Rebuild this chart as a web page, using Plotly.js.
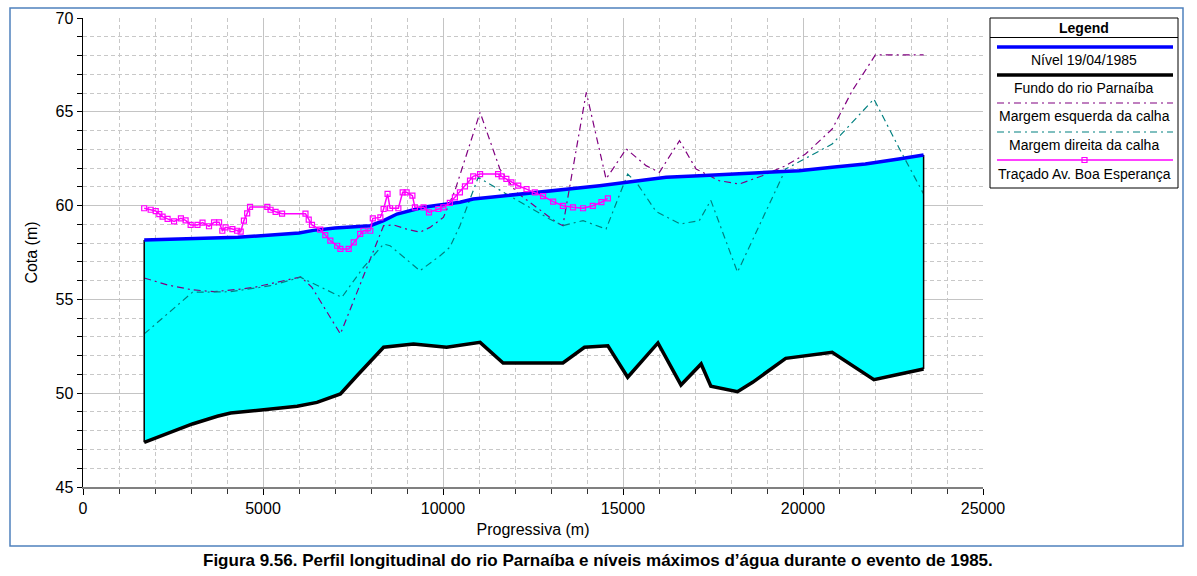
<!DOCTYPE html>
<html>
<head>
<meta charset="utf-8">
<script src="https://cdn.plot.ly/plotly-3.0.1.min.js"></script>
<style>html,body{margin:0;padding:0;background:#fff;}#chart{width:1197px;height:576px;}</style>
</head>
<body>
<div id="chart"></div>
<script>
// ---- Data ----
const seriesNames = ["Nível 19/04/1985", "Fundo do rio Parnaíba", "Margem esquerda da calha", "Margem direita da calha", "Traçado Av. Boa Esperança"];

const xNivel = [1700, 4300, 6000, 6400, 7000, 7980, 8350, 8720, 9450, 9920, 10470, 10840, 11760, 12690, 13610, 14350, 15270, 16200, 17120, 18040, 18970, 19890, 20810, 21730, 22660, 23350];
const yNivel = [58.17, 58.31, 58.54, 58.68, 58.80, 58.93, 59.20, 59.55, 59.91, 60.03, 60.18, 60.35, 60.53, 60.71, 60.92, 61.06, 61.28, 61.51, 61.59, 61.68, 61.74, 61.86, 62.04, 62.22, 62.48, 62.70];

const xFundo = [1700, 2250, 3040, 3730, 4100, 5020, 5950, 6500, 7150, 7610, 8350, 9180, 10100, 11030, 11670, 12410, 13330, 13930, 14580, 15130, 15970, 16610, 17170, 17440, 18180, 18600, 19520, 20810, 21970, 22570, 23350];
const yFundo = [47.38, 47.77, 48.36, 48.77, 48.94, 49.12, 49.30, 49.51, 49.96, 50.93, 52.45, 52.62, 52.45, 52.71, 51.61, 51.61, 51.61, 52.45, 52.53, 50.85, 52.68, 50.44, 51.56, 50.37, 50.08, 50.58, 51.86, 52.18, 50.72, 50.97, 51.29];

const xEsq = [1700, 2350, 3000, 3640, 4380, 4750, 6050, 6360, 7150, 8350, 8620, 8990, 9360, 9640, 10010, 10330, 11030, 11580, 12040, 12600, 13150, 13330, 13980, 14530, 15090, 15640, 16010, 16570, 17030, 17670, 18230, 18870, 19520, 20070, 20810, 21370, 22010, 23350];
const yEsq = [56.14, 55.77, 55.52, 55.41, 55.55, 55.64, 56.20, 55.64, 53.16, 58.93, 58.97, 58.75, 58.58, 58.84, 59.37, 60.79, 64.97, 61.95, 60.71, 59.91, 59.11, 58.93, 66.04, 61.42, 63.02, 62.13, 61.77, 63.46, 61.95, 61.33, 61.15, 61.59, 62.13, 62.75, 64.08, 66.13, 68.03, 68.03];

const xDir = [1700, 3040, 4100, 5210, 6040, 6320, 7190, 7790, 8350, 8530, 9360, 9920, 10190, 10470, 10750, 10980, 11760, 12320, 12960, 13330, 13890, 14530, 15130, 15370, 15920, 16590, 17120, 17440, 18180, 19520, 20810, 21970, 22660, 23350];
const yDir = [53.16, 55.38, 55.41, 55.73, 56.18, 55.91, 55.11, 56.71, 57.95, 57.86, 56.53, 57.33, 57.78, 58.93, 60.35, 61.51, 60.62, 60.00, 59.29, 58.93, 59.20, 58.75, 61.68, 61.24, 59.68, 59.02, 59.20, 60.28, 56.45, 61.95, 63.28, 65.68, 63.10, 60.62];

const xTr = [1700, 1880, 2020, 2120, 2210, 2350, 2530, 2720, 2850, 2990, 3180, 3320, 3500, 3640, 3780, 3870, 3960, 4150, 4280, 4380, 4470, 4560, 4640, 5120, 5210, 5350, 5530, 6180, 6270, 6360, 6590, 6730, 6870, 7060, 7150, 7380, 7520, 7700, 7790, 7980, 8050, 8260, 8350, 8460, 8530, 8760, 8880, 8990, 9150, 9220, 9460, 9610, 9870, 10010, 10190, 10330, 10470, 10610, 10750, 10840, 11030, 11530, 11630, 11760, 11900, 12090, 12320, 12550, 12780, 13060, 13330, 13610, 13890, 14160, 14400, 14580];
const yTr = [59.86, 59.78, 59.71, 59.55, 59.41, 59.29, 59.16, 59.32, 59.21, 58.97, 58.97, 59.09, 58.90, 59.11, 59.11, 58.66, 58.84, 58.75, 58.66, 58.61, 59.20, 59.59, 59.93, 59.93, 59.78, 59.67, 59.57, 59.57, 59.25, 58.97, 58.72, 58.43, 58.13, 57.86, 57.69, 57.69, 58.04, 58.49, 58.66, 58.66, 59.32, 59.37, 59.82, 60.62, 59.86, 59.86, 60.71, 60.71, 60.53, 59.91, 59.91, 59.64, 59.82, 59.91, 60.14, 60.44, 60.71, 61.03, 61.33, 61.56, 61.68, 61.68, 61.56, 61.42, 61.24, 61.06, 60.88, 60.71, 60.50, 60.21, 59.99, 59.91, 59.86, 59.99, 60.18, 60.39];

const xTickVals = [0, 5000, 10000, 15000, 20000, 25000];
const yTickVals = [45, 50, 55, 60, 65, 70];

// ---- Styling ----
const C_CYAN = '#00FFFF', C_BLUE = '#0000FF', C_BLACK = '#000000', C_PURPLE = '#800080', C_TEAL = '#008080', C_PINK = '#FF00FF';
const DASHDOT = '7px,4px,2px,4px';
const FONT = 'Liberation Sans, Arial, sans-serif';

const last = a => a[a.length - 1];

const traces = [
  {x: xFundo, y: yFundo, mode: 'lines', line: {width: 0, color: C_BLACK}, hoverinfo: 'skip', showlegend: false},
  {x: xNivel, y: yNivel, mode: 'lines', fill: 'tonexty', fillcolor: C_CYAN, line: {width: 0, color: C_BLUE}, hoverinfo: 'skip', showlegend: false},
  {x: xEsq, y: yEsq, mode: 'lines', name: seriesNames[2], line: {color: C_PURPLE, width: 1.2, dash: DASHDOT}, showlegend: false},
  {x: xDir, y: yDir, mode: 'lines', name: seriesNames[3], line: {color: C_TEAL, width: 1.2, dash: DASHDOT}, showlegend: false},
  {x: [xFundo[0], xNivel[0]], y: [yFundo[0], yNivel[0]], mode: 'lines', line: {color: C_BLACK, width: 1.5}, hoverinfo: 'skip', showlegend: false},
  {x: [last(xFundo), last(xNivel)], y: [last(yFundo), last(yNivel)], mode: 'lines', line: {color: C_BLACK, width: 1.5}, hoverinfo: 'skip', showlegend: false},
  {x: xFundo, y: yFundo, mode: 'lines', name: seriesNames[1], line: {color: C_BLACK, width: 3.5}, showlegend: false},
  {x: xNivel, y: yNivel, mode: 'lines', name: seriesNames[0], line: {color: C_BLUE, width: 3.5}, showlegend: false},
  {x: xTr, y: yTr, mode: 'lines+markers', name: seriesNames[4], line: {color: C_PINK, width: 1.5}, marker: {symbol: 'square-open', size: 5, color: C_PINK, line: {width: 1.2, color: C_PINK}}, showlegend: false}
];

const L = 83, R = 214, T = 18, B = 89, W = 1197, H = 576;
const PW = W - L - R, PH = H - T - B;
const PX = px => (px - L) / PW;
const PY = py => (H - B - py) / PH;

const shapes = [];
const annotations = [];

shapes.push({type: 'rect', xref: 'paper', yref: 'paper', x0: PX(10), x1: PX(1183), y0: PY(8), y1: PY(546), line: {color: '#4F81BD', width: 1.5}, layer: 'below'});

const LX0 = 990, LX1 = 1178, LY0 = 18, LY1 = 188;
shapes.push({type: 'rect', xref: 'paper', yref: 'paper', x0: PX(LX0), x1: PX(LX1), y0: PY(LY0), y1: PY(LY1), line: {color: '#000', width: 1}, fillcolor: '#fff'});
shapes.push({type: 'line', xref: 'paper', yref: 'paper', x0: PX(LX0), x1: PX(LX1), y0: PY(37.5), y1: PY(37.5), line: {color: '#000', width: 1}});
annotations.push({xref: 'paper', yref: 'paper', x: PX((LX0 + LX1) / 2), y: PY(27.5), text: '<b>Legend</b>', showarrow: false, xanchor: 'center', yanchor: 'middle', font: {family: FONT, size: 14, color: '#000'}});

const legendItems = [
  {lineY: 47, textY: 60, color: C_BLUE, width: 3.5, dash: 'solid'},
  {lineY: 75, textY: 88, color: C_BLACK, width: 3.5, dash: 'solid'},
  {lineY: 103, textY: 116, color: C_PURPLE, width: 1.2, dash: DASHDOT},
  {lineY: 132, textY: 145, color: C_TEAL, width: 1.2, dash: DASHDOT},
  {lineY: 160, textY: 173.5, color: C_PINK, width: 1.5, dash: 'solid', marker: true}
];
legendItems.forEach((it, i) => {
  shapes.push({type: 'line', xref: 'paper', yref: 'paper', x0: PX(997), x1: PX(1173), y0: PY(it.lineY), y1: PY(it.lineY), line: {color: it.color, width: it.width, dash: it.dash}});
  if (it.marker) {
    shapes.push({type: 'rect', xref: 'paper', yref: 'paper', x0: PX(1082), x1: PX(1087), y0: PY(it.lineY - 2.5), y1: PY(it.lineY + 2.5), line: {color: C_PINK, width: 1.2}});
  }
  annotations.push({xref: 'paper', yref: 'paper', x: PX((LX0 + LX1) / 2), y: PY(it.textY), text: seriesNames[i], showarrow: false, xanchor: 'center', yanchor: 'middle', font: {family: FONT, size: 14, color: '#000'}});
});

annotations.push({xref: 'paper', yref: 'paper', x: PX(598), y: PY(560), text: '<b>Figura 9.56. Perfil longitudinal do rio Parnaíba e níveis máximos d’água durante o evento de 1985.</b>', showarrow: false, xanchor: 'center', yanchor: 'middle', font: {family: 'Liberation Sans Narrow, Arial Narrow, sans-serif', size: 17, color: '#000'}});

const layout = {
  width: W, height: H,
  margin: {l: L, r: R, t: T, b: B, pad: 0},
  paper_bgcolor: '#fff', plot_bgcolor: '#fff',
  showlegend: false,
  font: {family: FONT, size: 16, color: '#000'},
  xaxis: {
    range: [0, 25000], tickvals: xTickVals, ticktext: xTickVals.map(String),
    showgrid: true, gridcolor: '#C4C4C4', gridwidth: 1,
    showline: true, linecolor: '#808080', linewidth: 1.5,
    ticks: 'outside', ticklen: 6, tickcolor: '#000', tickwidth: 1,
    zeroline: false, mirror: false,
    tickfont: {family: FONT, size: 16, color: '#000'},
    minor: {dtick: 1000, showgrid: true, gridcolor: '#C8C8C8', griddash: '4px,3px', gridwidth: 1, ticks: 'outside', ticklen: 5, tickcolor: '#333'},
    title: {text: 'Progressiva (m)', font: {family: FONT, size: 16, color: '#000'}, standoff: 8}
  },
  yaxis: {
    range: [45, 70], tickvals: yTickVals, ticktext: yTickVals.map(String),
    showgrid: true, gridcolor: '#C4C4C4', gridwidth: 1,
    showline: true, linecolor: '#000', linewidth: 1.5,
    ticks: 'outside', ticklen: 5, tickcolor: '#000', tickwidth: 1,
    zeroline: false,
    tickfont: {family: FONT, size: 16, color: '#000'},
    minor: {dtick: 1, showgrid: true, gridcolor: '#C8C8C8', griddash: '4px,3px', gridwidth: 1, ticks: 'outside', ticklen: 5, tickcolor: '#000'},
    title: {text: 'Cota (m)', font: {family: FONT, size: 16, color: '#000'}, standoff: 14}
  },
  shapes: shapes,
  annotations: annotations
};

Plotly.newPlot('chart', traces, layout, {displayModeBar: false, staticPlot: true});
</script>
</body>
</html>
